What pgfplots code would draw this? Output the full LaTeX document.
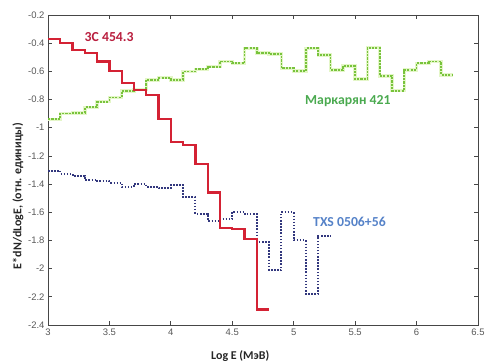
\documentclass[border=0pt]{standalone}
\usepackage{pgfplots}
\usepackage{pgfplotstable}
\pgfplotsset{compat=1.18}
\usepackage{fontspec}
\setmainfont{Carlito}
\newfontfamily\arialf{Liberation Sans}
\definecolor{redl}{RGB}{212,34,52}
\definecolor{redt}{RGB}{185,30,62}
\definecolor{greenl}{RGB}{120,195,60}
\definecolor{greenh}{RGB}{228,246,200}
\definecolor{greent}{RGB}{75,170,80}
\definecolor{bluel}{RGB}{50,55,125}
\definecolor{bluet}{RGB}{85,130,200}
\definecolor{axgray}{RGB}{70,70,70}

\pgfplotstableread{
x y
3.0 -0.37
3.1 -0.40
3.2 -0.45
3.3 -0.47
3.4 -0.53
3.5 -0.60
3.6 -0.68
3.7 -0.73
3.8 -0.77
3.9 -0.94
4.0 -1.10
4.1 -1.12
4.2 -1.26
4.3 -1.46
4.4 -1.71
4.5 -1.72
4.6 -1.79
4.7 -2.29
4.8 -2.29
}\redtab

\pgfplotstableread{
x y
3.0 -0.94
3.1 -0.90
3.2 -0.895
3.3 -0.855
3.4 -0.815
3.5 -0.785
3.6 -0.74
3.7 -0.73
3.8 -0.66
3.9 -0.645
4.0 -0.66
4.1 -0.60
4.2 -0.585
4.3 -0.567
4.4 -0.53
4.5 -0.543
4.6 -0.436
4.7 -0.47
4.8 -0.478
4.9 -0.578
5.0 -0.597
5.1 -0.436
5.2 -0.484
5.3 -0.59
5.4 -0.562
5.5 -0.654
5.6 -0.432
5.7 -0.633
5.8 -0.737
5.9 -0.59
6.0 -0.543
6.1 -0.531
6.2 -0.626
6.3 -0.626
}\greentab

\pgfplotstableread{
x y
3.0 -1.305
3.1 -1.325
3.2 -1.34
3.3 -1.37
3.4 -1.38
3.5 -1.39
3.6 -1.42
3.7 -1.40
3.8 -1.42
3.9 -1.43
4.0 -1.405
4.1 -1.495
4.2 -1.61
4.3 -1.66
4.4 -1.65
4.5 -1.595
4.6 -1.61
4.7 -1.81
4.8 -2.01
4.9 -1.60
5.0 -1.80
5.1 -2.18
5.2 -1.765
5.3 -1.765
}\bluetab

\begin{document}
\begin{tikzpicture}
\begin{axis}[
  at={(0,0)}, anchor=south west,
  scale only axis, width=430bp, height=310bp,
  xmin=3, xmax=6.5, ymin=-2.4, ymax=-0.2,
  xtick={3,3.5,4,4.5,5,5.5,6,6.5},
  ytick={-2.4,-2.2,-2,-1.8,-1.6,-1.4,-1.2,-1,-0.8,-0.6,-0.4,-0.2},
  /pgf/number format/assume math mode=true,
  tick label style={font=\arialf\fontsize{9.5}{11}\selectfont, text=axgray!90},
  axis line style={axgray, line width=0.9bp},
  major tick style={axgray, line width=0.8bp},
  major tick length=4bp,
  tick align=inside,
  clip=false,
]
\addplot[const plot, greenh, line width=3.4bp, forget plot] table[x=x,y=y] {\greentab};
\addplot[const plot, greenl, line width=1.7bp, dash pattern=on 2.2bp off 1.1bp] table[x=x,y=y] {\greentab};
\addplot[const plot, bluel, line width=2bp, dash pattern=on 1.5bp off 1.6bp] table[x=x,y=y] {\bluetab};
\addplot[const plot, redl, line width=2.2bp] table[x=x,y=y] {\redtab};

\node[anchor=west, font=\bfseries\fontsize{13.8}{15}\selectfont, text=redt] at (axis cs:3.27,-0.356) {3C 454.3};
\node[anchor=west, font=\bfseries\fontsize{13.8}{15}\selectfont, text=greent] at (axis cs:5.065,-0.808) {Маркарян 421};
\node[anchor=west, font=\bfseries\fontsize{13.8}{15}\selectfont, text=bluet] at (axis cs:5.13,-1.667) {TXS 0506+56};

\node[font=\bfseries\fontsize{12}{14}\selectfont, text=black!85] at (rel axis cs:0.447,-0.1) {Log E (МэВ)};
\node[font=\bfseries\fontsize{12}{14}\selectfont, text=black!85, rotate=90] at (rel axis cs:-0.0698,0.416) {E*dN/dLogE, (отн. единицы)};
\end{axis}
\pgfresetboundingbox
\path[use as bounding box] (-48bp,-39bp) rectangle (452bp,325bp);
\end{tikzpicture}
\end{document}
